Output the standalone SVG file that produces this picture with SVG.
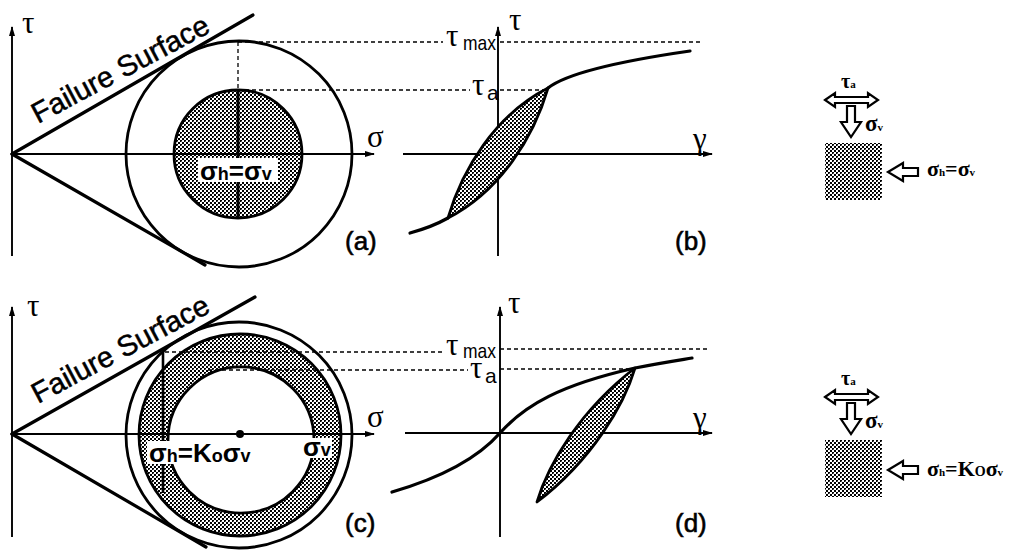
<svg xmlns="http://www.w3.org/2000/svg" width="1010" height="552" viewBox="0 0 1010 552">
<style>
.ax{stroke:#000;stroke-width:1.9;fill:none}
.thk{stroke:#000;stroke-width:3.2;fill:none;stroke-linecap:round}
.circ{stroke:#000;stroke-width:2.8;fill:none}
.dash{stroke:#000;stroke-width:1.3;stroke-dasharray:4,3;fill:none}
.shade{fill:url(#dots);stroke:#000;stroke-width:2.8}
.gk{font-family:"Liberation Serif","DejaVu Serif",serif;font-size:31px;fill:#000}
.sub{font-family:"Liberation Sans",Arial,sans-serif;font-size:21px;fill:#000}
.lab{font-family:"Liberation Sans",Arial,sans-serif;font-size:26px;fill:#000;stroke:#000;stroke-width:0.6}
.fs{font-family:"Liberation Sans",Arial,sans-serif;font-size:29px;fill:#000;stroke:#000;stroke-width:0.5}
.eq{font-family:"Liberation Sans",Arial,sans-serif;font-size:26px;font-weight:bold;fill:#000}
.sm{font-family:"Liberation Serif","Times New Roman",serif;font-weight:bold;fill:#000}
.hol{fill:#fff;stroke:#000;stroke-width:2.2;stroke-linejoin:miter}
</style>
<defs>
<pattern id="dots" width="4" height="4" patternUnits="userSpaceOnUse">
<rect width="4" height="4" fill="#fff"/>
<rect x="0" y="0" width="2" height="2" fill="#000"/>
<rect x="2" y="2" width="2" height="2" fill="#000"/>
<rect x="1" y="1" width="1" height="1" fill="#666"/>
</pattern>
<marker id="ah" markerWidth="10" markerHeight="8" refX="9" refY="4" orient="auto" markerUnits="userSpaceOnUse">
<path d="M0,1 L10,4 L0,7 Z" fill="#000"/>
</marker>
</defs>

<g id="panel-a">
<line class="ax" x1="12" y1="256" x2="12" y2="27" marker-end="url(#ah)"/>
<circle class="circ" cx="239" cy="154" r="113"/>
<circle class="shade" cx="238" cy="154" r="64"/>
<line x1="238" y1="90" x2="238" y2="218" stroke="#000" stroke-width="3"/>
<line class="ax" x1="12" y1="154" x2="374" y2="154" marker-end="url(#ah)"/>
<line class="thk" x1="12" y1="154" x2="253" y2="15"/>
<line class="thk" x1="12" y1="154" x2="205" y2="265"/>
<line class="dash" x1="238" y1="42" x2="238" y2="90"/>
<line class="dash" x1="238" y1="42" x2="443" y2="42"/>
<line class="dash" x1="238" y1="90" x2="470" y2="90"/>
<rect x="198" y="158" width="80" height="24" fill="#fff"/>
<text class="eq" x="200" y="180">σ<tspan font-size="18">h</tspan>=σ<tspan font-size="18">v</tspan></text>
<text class="fs" transform="translate(38,124) rotate(-28)">Failure Surface</text>
<text class="gk" x="22" y="33">τ</text>
<text class="gk" x="367" y="147">σ</text>
<text class="lab" x="345" y="250">(a)</text>
</g>

<g id="panel-b">
<line class="ax" x1="498" y1="256" x2="498" y2="27" marker-end="url(#ah)"/>
<line class="ax" x1="403" y1="154" x2="712" y2="154" marker-end="url(#ah)"/>
<line class="dash" x1="500" y1="42" x2="700" y2="42"/>
<line class="dash" x1="500" y1="90" x2="548" y2="90"/>
<path d="M448,218 C462,170 495,115 548,88 C534,136 501,191 448,218 Z" fill="url(#dots)" stroke="#000" stroke-width="2.8" stroke-linejoin="round"/>
<path class="thk" d="M410,233 Q432,227 448,218"/>
<path class="thk" d="M548,88 C562,77 600,64 690,51"/>
<text class="gk" x="509" y="30">τ</text>
<text class="gk" x="693" y="149">γ</text>
<text class="gk" x="446" y="46">τ</text><text class="sub" x="463" y="50" textLength="33" lengthAdjust="spacingAndGlyphs">max</text>
<text class="gk" x="472" y="95">τ</text><text class="sub" x="487" y="100">a</text>
<text class="lab" x="675" y="250">(b)</text>
</g>

<g id="element-top">
<text class="sm" x="841" y="88" font-size="20">τ<tspan font-size="11">a</tspan></text>
<path class="hol" d="M825,100 L835,93 L835,97 L868,97 L868,93 L878,100 L868,107 L868,103 L835,103 L835,107 Z"/>
<path class="hol" d="M847,106 L855,106 L855,122 L861,122 L851,137 L841,122 L847,122 Z"/>
<text class="sm" x="865" y="131" font-size="23">σ<tspan font-size="11">v</tspan></text>
<rect x="825" y="143" width="57" height="57" fill="url(#dots)"/>
<path class="hol" d="M888,172 L903,163 L903,168 L918,168 L918,176 L903,176 L903,181 Z"/>
<text class="sm" x="927" y="176" font-size="22">σ<tspan font-size="11">h</tspan>=σ<tspan font-size="11">v</tspan></text>
</g>

<g id="panel-c">
<line class="ax" x1="12" y1="537" x2="12" y2="307" marker-end="url(#ah)"/>
<circle class="circ" cx="239" cy="435" r="113"/>
<path d="M139,435 a101,101 0 1,0 202,0 a101,101 0 1,0 -202,0 Z M168,440 a73,73 0 1,0 146,0 a73,73 0 1,0 -146,0 Z" fill="url(#dots)" fill-rule="evenodd" stroke="#000" stroke-width="2.8"/>
<line x1="163" y1="352" x2="163" y2="493" stroke="#000" stroke-width="2.6"/>
<line class="ax" x1="12" y1="434" x2="374" y2="434" marker-end="url(#ah)"/>
<line class="thk" x1="12" y1="434" x2="255" y2="297"/>
<line class="thk" x1="12" y1="434" x2="206" y2="547"/>
<line class="dash" x1="165" y1="352" x2="443" y2="352"/>
<line class="dash" x1="208" y1="370" x2="468" y2="370"/>
<circle cx="240" cy="434" r="4" fill="#000"/>
<rect x="147" y="441" width="113" height="23" fill="#fff"/>
<text class="eq" x="149" y="462">σ<tspan font-size="18">h</tspan>=K<tspan font-size="18">o</tspan>σ<tspan font-size="18">v</tspan></text>
<rect x="302" y="438" width="30" height="20" fill="#fff"/>
<text class="eq" x="303" y="456">σ<tspan font-size="18">v</tspan></text>
<text class="fs" transform="translate(38,404) rotate(-28)">Failure Surface</text>
<text class="gk" x="27" y="316">τ</text>
<text class="gk" x="367" y="427">σ</text>
<text class="lab" x="345" y="532">(c)</text>
</g>

<g id="panel-d">
<line class="ax" x1="500" y1="537" x2="500" y2="307" marker-end="url(#ah)"/>
<line class="ax" x1="405" y1="433" x2="712" y2="433" marker-end="url(#ah)"/>
<line class="dash" x1="500" y1="349" x2="707" y2="349"/>
<line class="dash" x1="500" y1="369" x2="635" y2="369"/>
<path d="M537,502 C548,465 580,410 635,368 C624,405 592,460 537,502 Z" fill="url(#dots)" stroke="#000" stroke-width="2.8" stroke-linejoin="round"/>
<path class="thk" d="M392,492 C440,478 478,458 500,433 C525,405 560,385 635,368 C660,363 680,360 692,358"/>
<text class="gk" x="508" y="313">τ</text>
<text class="gk" x="693" y="428">γ</text>
<text class="gk" x="446" y="355">τ</text><text class="sub" x="463" y="358" textLength="33" lengthAdjust="spacingAndGlyphs">max</text>
<text class="gk" x="470" y="378">τ</text><text class="sub" x="485" y="383">a</text>
<text class="lab" x="675" y="532">(d)</text>
</g>

<g id="element-bottom">
<text class="sm" x="841" y="385" font-size="20">τ<tspan font-size="11">a</tspan></text>
<path class="hol" d="M825,397 L835,390 L835,394 L868,394 L868,390 L878,397 L868,404 L868,400 L835,400 L835,404 Z"/>
<path class="hol" d="M847,403 L855,403 L855,419 L861,419 L851,434 L841,419 L847,419 Z"/>
<text class="sm" x="865" y="428" font-size="23">σ<tspan font-size="11">v</tspan></text>
<rect x="825" y="440" width="57" height="57" fill="url(#dots)"/>
<path class="hol" d="M888,470 L903,461 L903,466 L918,466 L918,474 L903,474 L903,479 Z"/>
<text class="sm" x="927" y="476" font-size="22">σ<tspan font-size="11">h</tspan>=K<tspan font-size="14">O</tspan>σ<tspan font-size="11">v</tspan></text>
</g>
</svg>
